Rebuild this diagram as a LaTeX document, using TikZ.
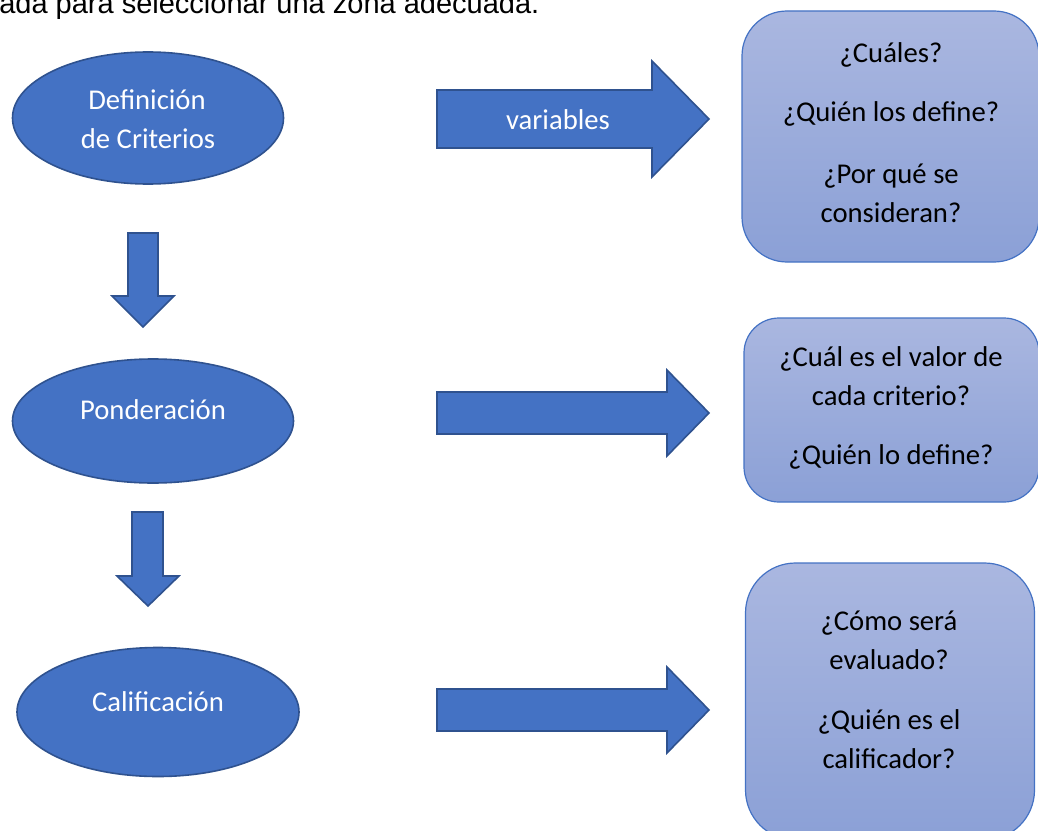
\documentclass[tikz,border=0pt]{standalone}
\usepackage{fontspec}
\setmainfont{Carlito}
\newfontfamily\arialfont{Liberation Sans}
\usetikzlibrary{shapes.geometric}
\definecolor{mainblue}{RGB}{68,114,196}
\definecolor{edgeblue}{RGB}{47,82,143}
\definecolor{boxtop}{RGB}{170,183,224}
\definecolor{boxbot}{RGB}{139,160,214}
\begin{document}
\begin{tikzpicture}[x=0.75pt,y=-0.75pt,
  oval/.style={ellipse, draw=edgeblue, fill=mainblue, line width=1.2pt, inner sep=0pt},
  bigarrow/.style={draw=edgeblue, fill=mainblue, line width=1.2pt, line join=miter},
  qbox/.style={rectangle, draw=mainblue, line width=0.9pt, top color=boxtop, bottom color=boxbot, inner sep=0pt},
  wtxt/.style={text=white, font=\fontsize{21.5pt}{29pt}\selectfont, inner sep=0pt, anchor=base},
  btxt/.style={text=black, font=\fontsize{21.5pt}{29pt}\selectfont, inner sep=0pt, anchor=base},
]
\useasboundingbox (0,0) rectangle (1038,831);
\fill[white] (0,0) rectangle (1038,831);
\node[anchor=base west, inner sep=0pt, font=\arialfont\fontsize{21.75pt}{26pt}\selectfont] (top) at (-1,14) {ada para seleccionar una zona adecuada.};

% ellipses
\node[oval, minimum width=203.25pt, minimum height=99pt] (e1) at (148,118) {};
\node[oval, minimum width=210.75pt, minimum height=93pt] (e2) at (153,421) {};
\node[oval, minimum width=211.5pt, minimum height=96.75pt] (e3) at (158,712) {};
\node[wtxt] (t1a) at (147,110) {Definición};
\node[wtxt] (t1b) at (148,149) {de Criterios};
\node[wtxt] (t2) at (153,419) {Ponderación};
\node[wtxt] (t3) at (158,711) {Calificación};

% down arrows
\draw[bigarrow] (128,233) -- (158,233) -- (158,296) -- (174,296) -- (143,327) -- (112,296) -- (128,296) -- cycle;
\draw[bigarrow] (132,512) -- (163,512) -- (163,576) -- (179,576) -- (148,606) -- (117,576) -- (132,576) -- cycle;

% right arrows
\draw[bigarrow] (437,90) -- (652,90) -- (652,61) -- (709,119) -- (652,177) -- (652,148) -- (437,148) -- cycle;
\draw[bigarrow] (437,392) -- (667,392) -- (667,370) -- (709,413) -- (667,456) -- (667,434) -- (437,434) -- cycle;
\draw[bigarrow] (437,689) -- (667,689) -- (667,667) -- (709,710) -- (667,753) -- (667,731) -- (437,731) -- cycle;
\node[wtxt] (var) at (558,130) {variables};

% question boxes
\node[qbox, rounded corners=33.75pt, minimum width=222.75pt, minimum height=188.25pt] (q1) at (890.5,136.5) {};
\node[qbox, rounded corners=26.25pt, minimum width=221.25pt, minimum height=138pt] (q2) at (891.5,410) {};
\node[qbox, rounded corners=37.5pt, minimum width=216.75pt, minimum height=207.75pt] (q3) at (890,701.5) {};

\node[btxt] (q1a) at (891,63) {¿Cuáles?};
\node[btxt] (q1b) at (891,122) {¿Quién los define?};
\node[btxt] (q1c) at (891,183) {¿Por qué se};
\node[btxt] (q1d) at (891,222) {consideran?};

\node[btxt] (q2a) at (891,366) {¿Cuál es el valor de};
\node[btxt] (q2b) at (891,405) {cada criterio?};
\node[btxt] (q2c) at (891,464) {¿Quién lo define?};

\node[btxt] (q3a) at (889,630) {¿Cómo será};
\node[btxt] (q3b) at (889,669) {evaluado?};
\node[btxt] (q3c) at (889,729) {¿Quién es el};
\node[btxt] (q3d) at (889,768) {calificador?};
\end{tikzpicture}
\end{document}
